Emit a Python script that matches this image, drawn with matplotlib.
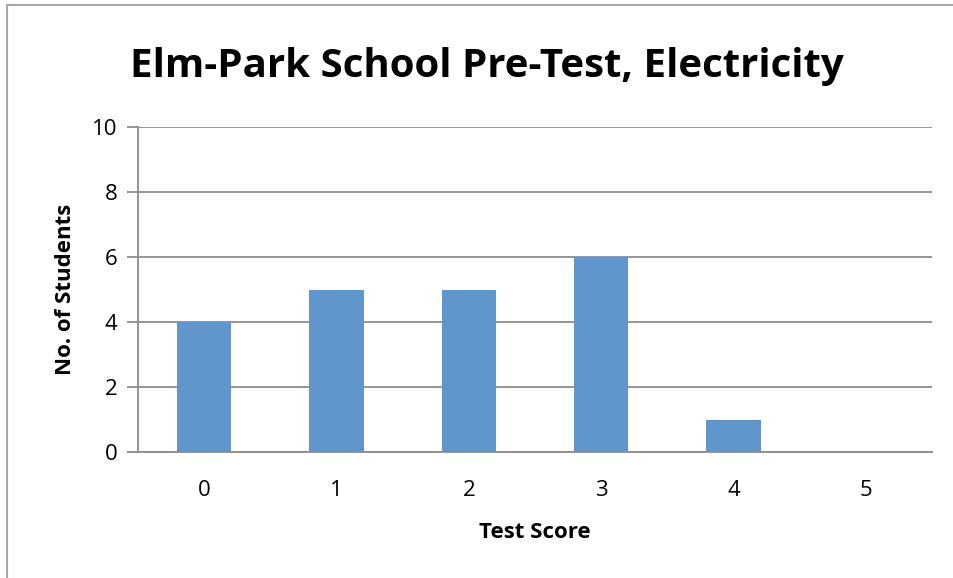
import matplotlib
matplotlib.use("Agg")
import matplotlib.pyplot as plt
from matplotlib.patches import Rectangle

# chart data
scores = ["0", "1", "2", "3", "4", "5"]
students = [4, 5, 5, 6, 1, 0]
y_ticks = [0, 2, 4, 6, 8, 10]

title = "Elm-Park School Pre-Test, Electricity"
x_label = "Test Score"
y_label = "No. of Students"

plt.rcParams['font.family'] = ['Open Sans', 'DejaVu Sans']

W, H = 954, 578
fig = plt.figure(figsize=(W / 100, H / 100), dpi=100)

# outer chart frame (gray, like an Excel chart object)
fig.patches.append(Rectangle((7 / W, -0.01), (W + 10) / W, 1 - 5 / H + 0.01,
                             transform=fig.transFigure, fill=False,
                             edgecolor="#a6a6a6", linewidth=1.5))

left, right, top, bottom = 138, 932, 127, 452
ax = fig.add_axes([left / W, 1 - bottom / H, (right - left) / W, (bottom - top) / H])

x = list(range(len(scores)))
ax.bar(x, students, width=0.41, color="#6096cb", zorder=3)

ax.set_xlim(-0.5, len(scores) - 0.5)
ax.set_ylim(0, 10)
ax.set_yticks(y_ticks)
ax.set_xticks(x)
ax.set_xticklabels(scores)
ax.yaxis.grid(True, color="#8c8c8c", linewidth=1.3, zorder=0)

for s in ["top", "right"]:
    ax.spines[s].set_visible(False)
ax.spines["left"].set_color("#8c8c8c")
ax.spines["bottom"].set_color("#8c8c8c")
ax.spines["left"].set_linewidth(1.3)
ax.spines["bottom"].set_linewidth(1.3)

ax.tick_params(axis="y", length=8, width=1.3, color="#8c8c8c", labelsize=16, pad=7)
ax.tick_params(axis="x", length=0, labelsize=16, pad=20)

ax.set_xlabel(x_label, fontsize=16, fontweight="bold", labelpad=15)
ax.set_ylabel(y_label, fontsize=16, fontweight="bold", labelpad=11)

fig.text(487 / W, 1 - 67 / H, title, fontsize=29, fontweight="bold",
         ha="center", va="center")

fig.savefig("out.png", dpi=100)
